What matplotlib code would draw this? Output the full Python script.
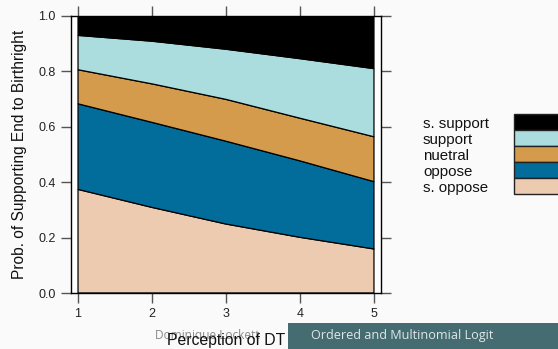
import numpy as np
import matplotlib.pyplot as plt
from matplotlib.patches import Rectangle

plt.rcParams['font.family'] = ['Liberation Sans', 'DejaVu Sans']

# cumulative probabilities (top of each band)
perception = [1, 2, 3, 4, 5]
s_oppose_top = [0.374, 0.309, 0.249, 0.201, 0.159]
oppose_top = [0.683, 0.616, 0.548, 0.477, 0.402]
neutral_top = [0.806, 0.755, 0.699, 0.631, 0.564]
support_top = [0.930, 0.909, 0.880, 0.846, 0.810]
s_support_top = [1.0, 1.0, 1.0, 1.0, 1.0]

labels = ['s. oppose', 'oppose', 'nuetral', 'support', 's. support']
colors = ['#edcbb0', '#026c9a', '#d59b4d', '#abdddf', '#000000']
xticks = [1, 2, 3, 4, 5]
yticks = [0.0, 0.2, 0.4, 0.6, 0.8, 1.0]

bg = '#fafafa'
fig = plt.figure(figsize=(5.58, 3.49), dpi=100, facecolor=bg)
ax = fig.add_axes([71 / 558, 56 / 349, 310 / 558, 277 / 349], facecolor='white')

x = np.array(perception)
tops = [s_oppose_top, oppose_top, neutral_top, support_top, s_support_top]
lower = np.zeros(len(x))
for top, c in zip(tops, colors):
    top = np.array(top)
    poly = np.concatenate([np.column_stack([x, lower]), np.column_stack([x[::-1], top[::-1]])])
    ax.fill(poly[:, 0], poly[:, 1], facecolor=c, edgecolor='black', linewidth=0.9, zorder=2)
    lower = top

ax.set_xlim(0.905, 5.095)
ax.set_ylim(0, 1)
ax.set_xticks(xticks)
ax.set_yticks(yticks)
ax.set_yticklabels(['%.1f' % v for v in yticks])
ax.tick_params(axis='both', which='both', direction='out', length=7, width=1,
               color='#555555', labelsize=9, labelcolor='#222222',
               top=True, right=True, labeltop=False, labelright=False, pad=4)
for s in ax.spines.values():
    s.set_linewidth(1)
    s.set_color('black')

ax.set_ylabel('Prob. of Supporting End to Birthright', fontsize=11.2, color='#111111', labelpad=8)

# slide footer text, behind the x label (they overlap in the original too)
fig.text(155 / 558, 1 - 335 / 349, 'Dominique Lockett', fontsize=8.6, color='#8a8a8a',
         family=['Open Sans', 'DejaVu Sans'], ha='left', va='center')
fig.text(226 / 558, 1 - 341 / 349, 'Perception of DT', fontsize=11.3, color='#111111',
         ha='center', va='center')

# legend: text on the left, stacked color keys on the right
key_top = 114
key_h = 16
for i, (lab, c) in enumerate(zip(labels[::-1], colors[::-1])):
    y0 = key_top + i * key_h
    fig.patches.append(Rectangle((514 / 558, 1 - (y0 + key_h) / 349), 60 / 558, key_h / 349,
                                 transform=fig.transFigure, facecolor=c, edgecolor='#222222',
                                 linewidth=1))
    fig.text(423 / 558, 1 - (y0 + 10) / 349, lab, fontsize=10.8, color='#111111',
             ha='left', va='center')

# slide footer bar
fig.patches.append(Rectangle((288 / 558, 0), 270 / 558, 26 / 349, transform=fig.transFigure,
                             facecolor='#456c71', edgecolor='none', zorder=5))
fig.text(311 / 558, 13 / 349, 'Ordered and Multinomial Logit', fontsize=9.1, color='#dfe7e8',
         family=['Open Sans', 'DejaVu Sans'], ha='left', va='center', zorder=6)

fig.savefig('out.png', dpi=100, facecolor=bg)
